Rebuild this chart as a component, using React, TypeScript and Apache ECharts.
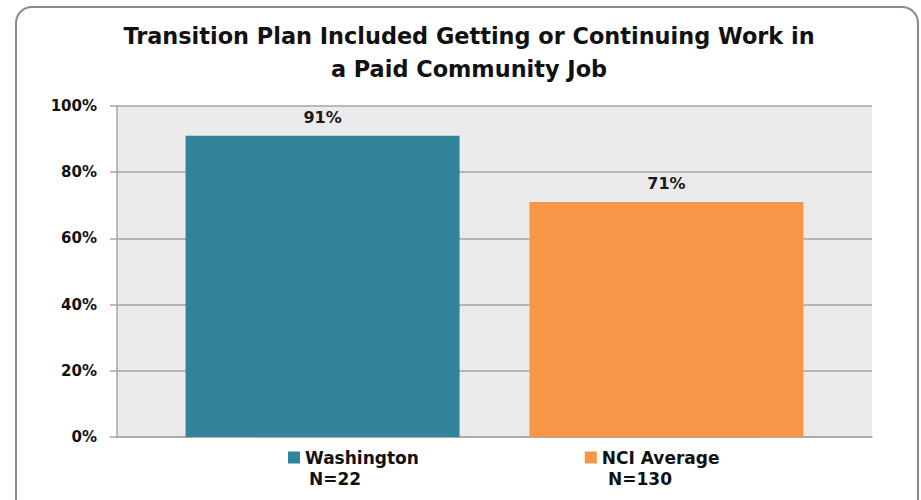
import React, { useEffect, useRef } from "react";
import * as echarts from "echarts";

const titleText = "Transition Plan Included Getting or Continuing Work in\na Paid Community Job";
const categories = [""];
const seriesNames = ["Washington", "NCI Average"];
const seriesN = ["N=22", "N=130"];
const washingtonValues = [91];
const nciValues = [71];
const yTicks = [0, 20, 40, 60, 80, 100];

const FONT = "DejaVu Sans";

export default function App() {
  const ref = useRef<HTMLDivElement>(null);
  useEffect(() => {
    document.body.style.margin = "0";
    const chart = echarts.init(ref.current!, null, { renderer: "svg" });
    const labelStyle = {
      show: true,
      position: "top" as const,
      distance: 8,
      formatter: "{c}%",
      fontFamily: FONT,
      fontWeight: "bold" as const,
      fontSize: 16,
      color: "#1a1a1a",
      backgroundColor: "#EBEBEB",
      padding: [2, 8],
    };
    chart.setOption({
      animation: false,
      backgroundColor: "#ffffff",
      title: {
        text: titleText,
        left: 464,
        textAlign: "center",
        top: 14,
        textStyle: {
          fontFamily: FONT,
          fontWeight: "bold",
          fontSize: 22.4,
          lineHeight: 33,
          color: "#111111",
        },
      },
      legend: {
        data: seriesNames,
        left: 283,
        top: 444,
        itemWidth: 12,
        itemHeight: 12,
        itemGap: 166,
        icon: "rect",
        textStyle: {
          fontFamily: FONT,
          fontWeight: "bold",
          fontSize: 17,
          color: "#111111",
        },
      },
      graphic: [
        {
          type: "rect",
          shape: { x: 16, y: 7, width: 902, height: 520, r: 16 },
          style: { fill: "none", stroke: "#8a8a8a", lineWidth: 2 },
          z: -1,
        },
        {
          type: "text",
          left: 309,
          top: 470,
          style: {
            text: seriesN[0],
            font: `bold 17px ${FONT}`,
            fill: "#111111",
          },
        },
        {
          type: "text",
          left: 608,
          top: 470,
          style: {
            text: seriesN[1],
            font: `bold 17px ${FONT}`,
            fill: "#111111",
          },
        },
      ],
      grid: {
        left: 117,
        right: 49,
        top: 106,
        bottom: 63,
        show: true,
        backgroundColor: "#EBEBEB",
        borderWidth: 0,
      },
      xAxis: {
        type: "category",
        data: categories,
        axisLine: { show: true, lineStyle: { color: "#A6A6A6", width: 1.5 } },
        axisTick: { show: false },
        axisLabel: { show: false },
      },
      yAxis: {
        type: "value",
        min: 0,
        max: 100,
        interval: 20,
        axisLine: { show: true, lineStyle: { color: "#A6A6A6", width: 1.5 } },
        axisTick: { show: true, length: 7, lineStyle: { color: "#A6A6A6", width: 1.5 } },
        splitLine: { show: true, lineStyle: { color: "#A6A6A6", width: 1.5 } },
        axisLabel: {
          formatter: (v: number) => (yTicks.includes(v) ? `${v}%` : ""),
          fontFamily: FONT,
          fontWeight: "bold",
          fontSize: 15,
          color: "#111111",
          margin: 20,
        },
      },
      series: [
        {
          name: seriesNames[0],
          type: "bar",
          data: washingtonValues,
          barWidth: 274,
          barGap: "25.5%",
          itemStyle: { color: "#31849B" },
          label: labelStyle,
        },
        {
          name: seriesNames[1],
          type: "bar",
          data: nciValues,
          barWidth: 274,
          itemStyle: { color: "#F79646" },
          label: labelStyle,
        },
      ],
    });
    return () => chart.dispose();
  }, []);
  return <div ref={ref} style={{ width: 921, height: 500 }} />;
}
